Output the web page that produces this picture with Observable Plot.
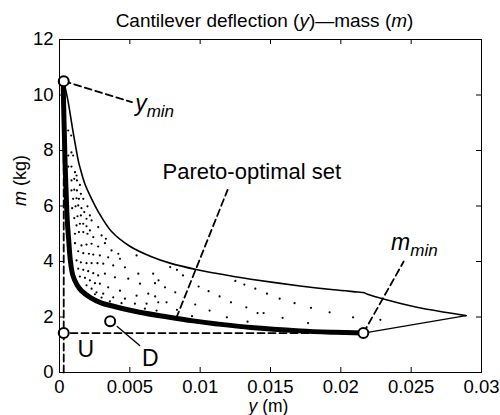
<!DOCTYPE html>
<html><head><meta charset="utf-8">
<script src="https://cdn.jsdelivr.net/npm/d3@7"></script>
<script src="https://cdn.jsdelivr.net/npm/@observablehq/plot@0.6"></script>
<style>body{margin:0;background:#fff}</style>
</head><body><div id="chart"></div>
<script>
const xTicks = [0, 0.005, 0.01, 0.015, 0.02, 0.025, 0.03];
const yTicks = [0, 2, 4, 6, 8, 10, 12];

// Pareto-optimal set (thick): [deflection y (m), mass m (kg)]
const paretoFront = [[0.00026,10.45],[0.0003,9.5],[0.00035,8.5],[0.0004,7.5],[0.00047,6.5],[0.00055,5.5],[0.00065,4.8],[0.00078,4.0],[0.00095,3.5],[0.00125,3.15],[0.00155,2.95],[0.0022,2.7],[0.003,2.5],[0.0039,2.38],[0.0057,2.17],[0.0077,2.0],[0.0095,1.86],[0.0112,1.75],[0.0136,1.62],[0.0171,1.5],[0.0195,1.45],[0.0216,1.42]];
// upper boundary of feasible objective region
const upperBound = [[0.0003,10.5],[0.0006,9.8],[0.00095,8.72],[0.00135,7.6],[0.00145,7.4],[0.0018,6.8],[0.00228,6.26],[0.00275,5.8],[0.0037,5.08],[0.005,4.55],[0.0065,4.18],[0.0078,3.95],[0.0098,3.7],[0.0125,3.45],[0.0136,3.36],[0.0171,3.12],[0.0195,2.98],[0.0212,2.9],[0.0216,2.88],[0.0219,2.82],[0.0231,2.64],[0.0254,2.35],[0.0289,2.05]];
// lower right boundary
const lowerRight = [[0.0216,1.42],[0.0289,2.05]];
// sampled designs
const designDots = [
[0.00062,8.72],[0.00083,8.54],[0.00085,7.93],[0.00097,7.82],[0.00062,7.82],
[0.00062,7.42],[0.00085,7.42],[0.00110,7.22],[0.00121,7.10],
[0.00085,6.92],[0.00105,6.98],[0.00124,6.92],[0.00145,6.76],
[0.00085,6.56],[0.00105,6.59],[0.00124,6.56],[0.00152,6.44],[0.00169,6.26],
[0.00097,6.26],[0.00121,6.28],[0.00138,6.26],[0.00199,5.99],
[0.00090,5.92],[0.00114,5.99],[0.00133,6.02],[0.00156,5.92],[0.00176,5.78],[0.00216,5.66],[0.00228,5.48],
[0.00105,5.56],[0.00128,5.63],[0.00152,5.66],[0.00192,5.54],[0.00275,5.24],
[0.00121,5.30],[0.00145,5.36],[0.00169,5.36],[0.00192,5.27],[0.00216,5.12],[0.00299,4.94],[0.0033,4.82],
[0.00110,5.00],[0.00138,5.06],[0.00169,5.06],[0.00199,5.00],[0.00240,4.88],
[0.00110,4.66],[0.00156,4.58],[0.00192,4.61],[0.00228,4.64],[0.00275,4.54],[0.00323,4.66],[0.00370,4.40],[0.00418,4.28],
[0.00133,4.37],[0.00169,4.30],[0.00209,4.28],[0.00240,4.25],[0.00287,4.22],[0.00346,4.15],[0.00430,4.10],[0.00548,4.22],
[0.00121,4.04],[0.00152,3.97],[0.00192,3.94],[0.00228,3.94],[0.00270,3.94],[0.00311,3.92],[0.00382,3.86],[0.00465,3.79],[0.00560,3.56],[0.00666,3.56],
[0.00133,3.74],[0.00169,3.70],[0.00204,3.65],[0.00240,3.58],[0.00275,3.50],[0.00323,3.56],[0.00394,3.43],[0.00489,3.38],
[0.00145,3.46],[0.00181,3.41],[0.00216,3.32],[0.00252,3.22],[0.00287,3.20],[0.00346,3.07],[0.00430,2.95],[0.00572,3.20],[0.00679,3.22],[0.00750,3.07],
[0.00192,3.14],[0.00228,3.02],[0.00263,2.89],[0.00311,2.84],[0.00382,2.71],[0.00465,2.66],[0.00548,2.77],[0.00631,2.84],
[0.00252,2.82],[0.00299,2.70],[0.00358,2.56],[0.00441,2.50],[0.00536,2.48],[0.00619,2.48],[0.00702,2.53],[0.00761,2.53],
[0.00607,2.30],[0.00690,2.23],
[0.00787,3.80],[0.00835,3.70],[0.00878,3.50],[0.00704,3.32],[0.00823,2.89],[0.00989,3.10],[0.0106,2.93],[0.01138,2.74],[0.0125,3.30],[0.01314,3.17],[0.01392,3.02],[0.01475,2.84],[0.01565,2.66],
[0.00835,2.26],[0.00965,2.45],[0.01067,2.23],[0.01219,2.53],[0.01328,2.35],[0.01408,2.14],[0.00942,2.03],[0.0119,1.99],[0.01337,1.83],[0.0068,2.74],
[0.01586,1.97],[0.01671,2.50],[0.01788,2.33],[0.01767,1.78],[0.0192,2.17],[0.02087,1.99],[0.02281,1.90],[0.01451,2.14]
];
// marked points
const keyPoints = [
  {name: "ymin", y: 0.0003, m: 10.5},
  {name: "mmin", y: 0.0216, m: 1.42},
  {name: "U", y: 0.0003, m: 1.42},
  {name: "D", y: 0.0036, m: 1.85}
];
// dashed guide / leader lines
const dashedGuides = [
  [[0.0003,0],[0.0003,10.5]],
  [[0,1.42],[0.0216,1.42]],
  [[0.0003,10.5],[0.00515,9.74]],
  [[0.0216,1.42],[0.02447,4.0]],
  [[0.0083,1.96],[0.01195,6.58]]
];
const solidLeader = [[0.0041,1.66],[0.0057,0.97]];

// annotation labels (left-anchored)
const annotations = [
  {text: "ymin", y: 0.00538, m: 9.44, size: 23},
  {text: "mmin", y: 0.02357, m: 4.40, size: 23},
  {text: "U", y: 0.00128, m: 0.55, size: 23},
  {text: "D", y: 0.00586, m: 0.23, size: 23}
];
// centred label
const paretoLabel = [{text: "Pareto-optimal set", y: 0.01367, m: 6.98}];
const titleText = "Cantilever deflection (y)\u2014mass (m)";
const xLabel = "y (m)";
const yLabel = "m (kg)";

// rich-text parts: [text, italic, fontSize|null, dy]
const rich = {
  [titleText]: [["Cantilever deflection (",0],["y",1],[")\u2014mass (",0],["m",1],[")",0]],
  [xLabel]: [["y",1],[" (m)",0]],
  [yLabel]: [["m",1],[" (kg)",0]],
  "ymin": [["y",1,23,0],["min",1,17,6]],
  "mmin": [["m",1,23,0],["min",1,17,6]]
};

const W = 500, H = 415, mL = 59, mR = 19, mT = 39, mB = 43;
const innerW = W - mL - mR, innerH = H - mT - mB;

const seg = (arr) => arr.flatMap((s, i) => s.map(([y, m]) => ({y, m, i})));

const plot = Plot.plot({
  width: W, height: H,
  marginLeft: mL, marginRight: mR, marginTop: mT, marginBottom: mB,
  style: {fontFamily: "'Liberation Sans', Arial, Helvetica, sans-serif", fontSize: "18px", background: "white", color: "black"},
  x: {domain: [0, 0.03]},
  y: {domain: [0, 12]},
  marks: [
    Plot.dot(designDots, {x: d => d[0], y: d => d[1], r: 1.1, fill: "black", stroke: "none"}),
    Plot.line(upperBound, {x: d => d[0], y: d => d[1], stroke: "black", strokeWidth: 1.6, curve: "catmull-rom"}),
    Plot.line(lowerRight, {x: d => d[0], y: d => d[1], stroke: "black", strokeWidth: 1.3}),
    Plot.line(seg(dashedGuides), {x: "y", y: "m", z: "i", stroke: "black", strokeWidth: 1.8, strokeDasharray: "7,4"}),
    Plot.line(solidLeader, {x: d => d[0], y: d => d[1], stroke: "black", strokeWidth: 1.3}),
    Plot.line(paretoFront, {x: d => d[0], y: d => d[1], stroke: "black", strokeWidth: 5, curve: "catmull-rom", strokeLinecap: "round"}),
    Plot.dot(keyPoints, {x: "y", y: "m", r: 5, fill: "white", stroke: "black", strokeWidth: 2}),
    Plot.frame({stroke: "black", strokeWidth: 1}),
    Plot.tickX(xTicks, {x: d => d, insetTop: innerH - 5, stroke: "black"}),
    Plot.tickX(xTicks, {x: d => d, insetBottom: innerH - 5, stroke: "black"}),
    Plot.tickY(yTicks, {y: d => d, insetRight: innerW - 5, stroke: "black"}),
    Plot.tickY(yTicks, {y: d => d, insetLeft: innerW - 5, stroke: "black"}),
    Plot.axisX(xTicks, {tickSize: 0, tickPadding: 7, tickFormat: d => String(d), fontSize: 18.5, label: null}),
    Plot.axisY(yTicks, {tickSize: 0, tickPadding: 6, fontSize: 18.5, label: null}),
    Plot.text(annotations, {x: "y", y: "m", text: "text", textAnchor: "start", fontSize: "size", lineAnchor: "bottom", fill: "black"}),
    Plot.text(paretoLabel, {x: "y", y: "m", text: "text", textAnchor: "middle", fontSize: 22, lineAnchor: "bottom", fill: "black"}),
    Plot.text([titleText], {frameAnchor: "top", dx: -6, dy: -13, lineAnchor: "bottom", fontSize: 19, text: d => d, fill: "black"}),
    Plot.text([xLabel], {frameAnchor: "bottom", dx: -2, dy: 39, lineAnchor: "bottom", fontSize: 17.5, text: d => d, fill: "black"}),
    Plot.text([yLabel], {frameAnchor: "left", dx: -34, rotate: -90, lineAnchor: "bottom", fontSize: 18, text: d => d, fill: "black"})
  ]
});

// apply italic / subscript styling
d3.select(plot).selectAll("text").each(function() {
  const parts = rich[this.textContent];
  if (!parts) return;
  const t = d3.select(this);
  t.text(null);
  for (const [s, it, size, dy] of parts) {
    const sp = t.append("tspan").text(s);
    if (it) sp.attr("font-style", "italic");
    if (size) sp.attr("font-size", size);
    if (dy) sp.attr("dy", dy);
  }
});

document.getElementById("chart").appendChild(plot);
</script>
</body></html>
